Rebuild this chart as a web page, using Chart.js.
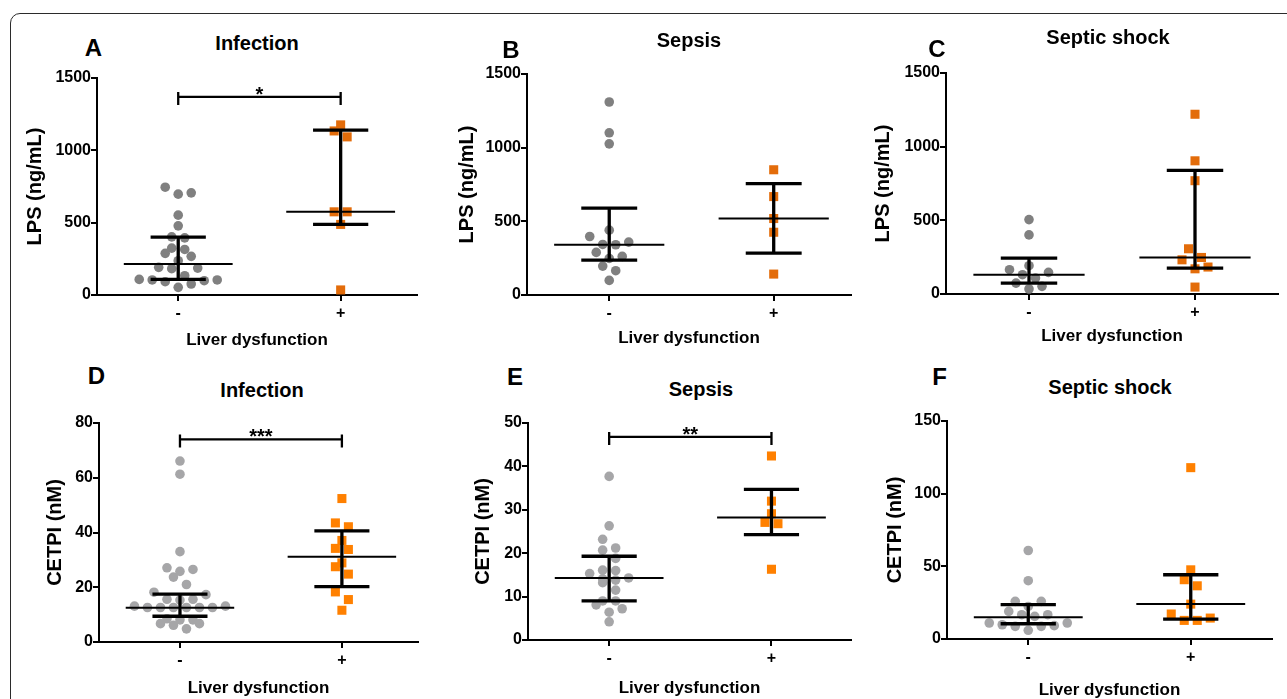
<!DOCTYPE html>
<html>
<head>
<meta charset="utf-8">
<script src="https://cdn.jsdelivr.net/npm/chart.js@4.4.1/dist/chart.umd.min.js"></script>
<style>
  html, body { margin: 0; padding: 0; background: #fff; overflow: hidden; }
  body { width: 1287px; height: 699px; position: relative; font-family: "Liberation Sans", Arial, sans-serif; }
  .frame { position: absolute; left: 10px; top: 13px; width: 1330px; height: 730px; border: 1.5px solid #2b2b2b; border-radius: 10px; }
  canvas { position: absolute; }
  .lbl { position: absolute; transform: translate(-50%, -50%); font-weight: bold; white-space: nowrap; color: #000; line-height: 1; }
  .letter { font-size: 24px; }
  .title { font-size: 20px; }
</style>
</head>
<body>
<div class="frame"></div>
<script>
const FONT = '"Liberation Sans", Arial, sans-serif';
const groups = ['-', '+'];

// LPS (ng/mL) - infection
const lpsInfNeg = [706, 697, 745, 552, 478, 402, 395, 315, 267, 288, 324, 237, 191, 182, 186, 133, 108, 104, 92, 53, 76, 99, 104];
const lpsInfPos = [1134, 1176, 1093, 575, 575, 488, 35];
const lpsInfMed = [214, 575];
const lpsInfQ1 = [108, 488];
const lpsInfQ3 = [400, 1139];
const lpsInfSig = [1369, '*'];

// LPS (ng/mL) - sepsis
const lpsSepNeg = [1310, 1101, 1026, 440, 397, 359, 343, 341, 289, 248, 262, 196, 165, 99];
const lpsSepPos = [850, 668, 519, 426, 142];
const lpsSepMed = [341, 519];
const lpsSepQ1 = [237, 284];
const lpsSepQ3 = [589, 756];

// LPS (ng/mL) - septic shock
const lpsShockNeg = [505, 401, 192, 147, 165, 131, 108, 74, 52, 34];
const lpsShockPos = [1220, 904, 769, 307, 248, 232, 183, 171, 47];
const lpsShockMed = [131, 248];
const lpsShockQ1 = [74, 176];
const lpsShockQ3 = [244, 839];

// CETPI (nM) - infection
const cetpiInfNeg = [66.1, 61.3, 33.0, 27.1, 25.8, 26.5, 23.7, 21.0, 18.2, 17.3, 15.6, 15.6, 15.3,
  13.1, 12.6, 12.6, 12.6, 12.6, 12.6, 12.6, 13.1, 8.5, 8.1, 6.7, 4.8, 6.1, 6.7, 8.1];
const cetpiInfPos = [52.4, 43.5, 42.1, 37.1, 34.2, 33.8, 28.9, 27.5, 24.8, 18.3, 15.5, 11.6];
const cetpiInfMed = [12.5, 31.1];
const cetpiInfQ1 = [9.4, 20.2];
const cetpiInfQ3 = [17.5, 40.6];
const cetpiInfSig = [74.0, '***'];

// CETPI (nM) - sepsis
const cetpiSepNeg = [37.7, 26.3, 23.2, 21.2, 20.7, 18.8, 16.1, 16.0, 15.3, 14.3, 14.1, 13.8, 13.2, 11.5, 9.0, 9.0, 8.1, 7.2, 6.4, 4.2];
const cetpiSepPos = [42.4, 32.0, 29.1, 27.1, 26.8, 16.3];
const cetpiSepMed = [14.3, 28.2];
const cetpiSepQ1 = [9.0, 24.3];
const cetpiSepQ3 = [19.3, 34.7];
const cetpiSepSig = [46.8, '**'];

// CETPI (nM) - septic shock
const cetpiShockNeg = [60.9, 40.1, 25.9, 25.9, 22.4, 19.0, 16.7, 16.7, 15.6, 11.0, 11.0, 9.8, 9.2, 8.7, 8.7, 6.0];
const cetpiShockPos = [117.9, 47.6, 40.8, 36.6, 24.0, 17.2, 14.4, 12.8, 12.8];
const cetpiShockMed = [14.9, 24.0];
const cetpiShockQ1 = [10.5, 13.7];
const cetpiShockQ3 = [23.6, 44.2];

const topColors = { grey: '#808080', orange: '#e36c0a' };
const botColors = { grey: '#a6a6a8', orange: '#ff8000' };

const panels = [
  { letter: 'A', title: 'Infection', neg: lpsInfNeg, pos: lpsInfPos, med: lpsInfMed, q1: lpsInfQ1, q3: lpsInfQ3, sig: lpsInfSig,
    yTitle: 'LPS (ng/mL)', yMax: 1500, yStep: 500, box: [97, 78, 417, 295], xMax: 2.47, yTitlePad: 6, xTitlePad: 8.8,
    titleAt: [257, 43], letterAt: [93.5, 48], colors: topColors },
  { letter: 'B', title: 'Sepsis', neg: lpsSepNeg, pos: lpsSepPos, med: lpsSepMed, q1: lpsSepQ1, q3: lpsSepQ3, sig: null,
    yTitle: 'LPS (ng/mL)', yMax: 1500, yStep: 500, box: [527, 74, 851, 295], xMax: 2.47, yTitlePad: 8, xTitlePad: 10.8,
    titleAt: [689, 40], letterAt: [511, 50], colors: topColors },
  { letter: 'C', title: 'Septic shock', neg: lpsShockNeg, pos: lpsShockPos, med: lpsShockMed, q1: lpsShockQ1, q3: lpsShockQ3, sig: null,
    yTitle: 'LPS (ng/mL)', yMax: 1500, yStep: 500, box: [946, 73, 1278, 294], xMax: 2.5, yTitlePad: 5, xTitlePad: 11.8,
    titleAt: [1108, 37], letterAt: [937, 48.5], colors: topColors },
  { letter: 'D', title: 'Infection', neg: cetpiInfNeg, pos: cetpiInfPos, med: cetpiInfMed, q1: cetpiInfQ1, q3: cetpiInfQ3, sig: cetpiInfSig,
    yTitle: 'CETPI (nM)', yMax: 80, yStep: 20, box: [99, 423, 418, 642], xMax: 2.47, yTitlePad: 24, xTitlePad: 7.8,
    titleAt: [262, 390], letterAt: [96.5, 376], colors: botColors },
  { letter: 'E', title: 'Sepsis', neg: cetpiSepNeg, pos: cetpiSepPos, med: cetpiSepMed, q1: cetpiSepQ1, q3: cetpiSepQ3, sig: cetpiSepSig,
    yTitle: 'CETPI (nM)', yMax: 50, yStep: 10, box: [528, 423, 851, 640], xMax: 2.49, yTitlePad: 23, xTitlePad: 5.8,
    titleAt: [701, 389], letterAt: [515, 377], colors: botColors },
  { letter: 'F', title: 'Septic shock', neg: cetpiShockNeg, pos: cetpiShockPos, med: cetpiShockMed, q1: cetpiShockQ1, q3: cetpiShockQ3, sig: null,
    yTitle: 'CETPI (nM)', yMax: 150, yStep: 50, box: [947, 421, 1272, 639], xMax: 2.5, yTitlePad: 16, xTitlePad: 2.8,
    titleAt: [1110, 387], letterAt: [939.5, 377], colors: botColors }
];

// column scatter layout: values grouped in rows, each row spread symmetrically around the column centre
function swarm(vals, center, pxX, pxY) {
  const sorted = vals.slice().sort((a, b) => a - b);
  const rows = [];
  sorted.forEach(v => {
    const row = rows[rows.length - 1];
    if (row && row.length < 8 && (v - row[0]) * pxY < 9) row.push(v);
    else rows.push([v]);
  });
  const out = [];
  rows.forEach(row => {
    const n = row.length;
    row.forEach((v, j) => {
      let slot;
      if (n % 2) slot = j === 0 ? 0 : (j % 2 ? Math.ceil(j / 2) : -j / 2);
      else slot = (j % 2 ? -1 : 1) * (Math.floor(j / 2) + 0.5);
      out.push({ x: center + slot * 13 / pxX, y: v });
    });
  });
  return out;
}

const bracketPlugin = {
  id: 'bracket',
  afterDatasetsDraw(chart, args, opts) {
    if (!opts || opts.y == null) return;
    const { ctx, scales: { x, y } } = chart;
    const x1 = x.getPixelForValue(1), x2 = x.getPixelForValue(2), yy = y.getPixelForValue(opts.y);
    ctx.save();
    ctx.strokeStyle = '#000';
    ctx.lineWidth = 2.3;
    ctx.beginPath();
    ctx.moveTo(x1, yy); ctx.lineTo(x2, yy);
    ctx.moveTo(x1, yy - 5); ctx.lineTo(x1, yy + 8);
    ctx.moveTo(x2, yy - 5); ctx.lineTo(x2, yy + 8);
    ctx.stroke();
    ctx.fillStyle = '#000';
    ctx.font = 'bold 20px ' + FONT;
    ctx.textAlign = 'center';
    ctx.textBaseline = 'alphabetic';
    ctx.fillText(opts.label, (x1 + x2) / 2, yy + 4);
    ctx.restore();
  }
};

function addLabel(text, cls, at) {
  const d = document.createElement('div');
  d.className = 'lbl ' + cls;
  d.textContent = text;
  d.style.left = at[0] + 'px';
  d.style.top = at[1] + 'px';
  document.body.appendChild(d);
}

function makePanel(p) {
  const [l, t, r, b] = p.box;
  const yW = 80, padTop = 12, padRight = 8, xH = 64;
  const cv = document.createElement('canvas');
  cv.width = yW + (r - l) + padRight;
  cv.height = padTop + (b - t) + xH;
  cv.style.left = (l - yW) + 'px';
  cv.style.top = (t - padTop) + 'px';
  document.body.appendChild(cv);

  const pxX = (r - l) / (p.xMax - 0.5);
  const pxY = (b - t) / p.yMax;

  const seg = (x1, y1, x2, y2, w) => ({
    data: [{ x: x1, y: y1 }, { x: x2, y: y2 }],
    showLine: true, pointRadius: 0, borderColor: '#000', borderWidth: w, order: 0
  });
  const sets = [];
  [1, 2].forEach((c, i) => {
    sets.push(seg(c - 0.335, p.med[i], c + 0.335, p.med[i], 2));
    sets.push(seg(c - 0.17, p.q1[i], c + 0.17, p.q1[i], 3.3));
    sets.push(seg(c - 0.17, p.q3[i], c + 0.17, p.q3[i], 3.3));
    sets.push(seg(c, p.q1[i], c, p.q3[i], 3.3));
  });
  sets.push({ label: groups[0], data: swarm(p.neg, 1, pxX, pxY), pointStyle: 'circle', pointRadius: 4.8,
    backgroundColor: p.colors.grey, borderWidth: 0, order: 1 });
  sets.push({ label: groups[1], data: swarm(p.pos, 2, pxX, pxY), pointStyle: 'rect', pointRadius: 6.4,
    backgroundColor: p.colors.orange, borderWidth: 0, order: 1 });

  new Chart(cv, {
    type: 'scatter',
    data: { datasets: sets },
    plugins: [bracketPlugin],
    options: {
      responsive: false,
      animation: false,
      events: [],
      devicePixelRatio: 1,
      layout: { padding: { left: 0, top: padTop, right: padRight, bottom: 0 } },
      plugins: {
        legend: { display: false },
        tooltip: { enabled: false },
        bracket: p.sig ? { y: p.sig[0], label: p.sig[1] } : false
      },
      scales: {
        x: {
          type: 'linear', min: 0.5, max: p.xMax,
          afterBuildTicks: s => { s.ticks = [{ value: 1 }, { value: 2 }]; },
          afterFit: s => { s.height = xH; },
          ticks: { callback: v => groups[v - 1], color: '#000', padding: 3, maxRotation: 0, autoSkip: false,
            font: { family: FONT, size: 16, weight: 'bold' } },
          grid: { drawOnChartArea: false, drawTicks: true, tickLength: 6, color: '#000', lineWidth: 2 },
          border: { display: true, color: '#000', width: 2 },
          title: { display: true, text: 'Liver dysfunction', color: '#000',
            font: { family: FONT, size: 17, weight: 'bold' }, padding: { top: 0, bottom: p.xTitlePad } }
        },
        y: {
          min: 0, max: p.yMax,
          afterFit: s => { s.width = yW; },
          ticks: { stepSize: p.yStep, color: '#000', padding: 0, callback: v => String(v),
            font: { family: FONT, size: 16, weight: 'bold' } },
          grid: { drawOnChartArea: false, drawTicks: true, tickLength: 6, color: '#000', lineWidth: 2 },
          border: { display: true, color: '#000', width: 2 },
          title: { display: true, text: p.yTitle, color: '#000',
            font: { family: FONT, size: 20, weight: 'bold' }, padding: { top: p.yTitlePad, bottom: 0 } }
        }
      }
    }
  });

  addLabel(p.letter, 'letter', p.letterAt);
  addLabel(p.title, 'title', p.titleAt);
}

panels.forEach(makePanel);
</script>
</body>
</html>
